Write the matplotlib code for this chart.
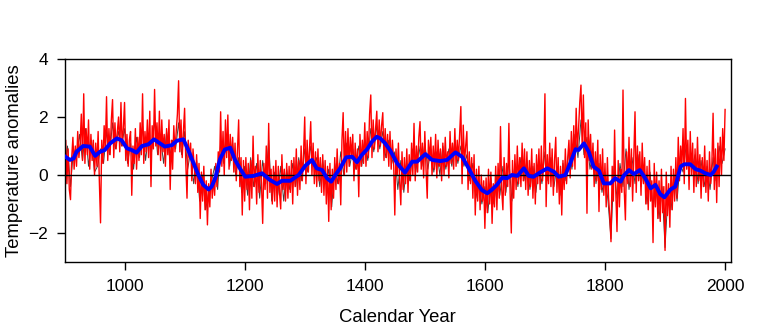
import matplotlib
matplotlib.use("Agg")
import matplotlib.pyplot as plt
from matplotlib import font_manager
import numpy as np

# ---------------- data ----------------
# red series: values every 2 years, 900..2000
red_start, red_step = 900, 2
red_values = [
    0.4, 1.2, -0.3, 0.9, -0.5,   -0.85, 0.6, 1.3, 0.2, 1.0,
    0.3, 1.5, 0.6, 1.1, 2.1,     0.5, 2.8, 0.4, 1.6, 0.7,
    1.9, 0.2, 1.4, 0.5, 1.2,     0.0, 1.1, 0.3, 1.5, -0.2,
    -1.65, 1.2, 0.4, 1.7, 0.9,   2.7, 0.5, 1.6, 0.7, 1.9,
    2.6, 0.6, 1.8, 0.9, 1.5,     2.0, 0.8, 2.5, 1.0, 1.6,
    2.5, 0.5, 1.4, 0.3, 1.2,     1.5, -0.7, 1.0, 0.4, 1.6,
    0.2, 1.3, 0.5, 1.8, 0.7,     2.8, 0.4, 1.5, 0.8, 1.9,
    0.6, 2.2, -0.4, 1.7, 0.9,    2.95, 1.0, 1.8, 0.7, 2.2,
    0.5, 1.9, 0.8, 1.4, 0.3,     1.6, 0.7, 1.9, -0.5, 1.2,
    0.2, 1.7, 0.8, 1.5, 2.1,     3.25, 0.8, 1.9, 0.6, 1.5,
    2.3, 0.4, -0.8, 1.2, 0.6,    1.1, -0.2, 0.9, 0.3, -0.3,
    0.7, -0.6, 0.4, -1.5, 0.1,   -0.9, 0.3, -1.2, -0.2, -1.72,
    -0.3, -1.1, 0.2, -0.8, -0.1, -0.7, 0.4, -0.4, 0.8, 0.1,
    2.18, 0.3, 1.5, 0.0, 1.9,    0.6, 2.07, 0.2, 1.4, 0.5,
    1.3, 0.1, 1.1, -0.2, 0.9,    1.9, -0.4, 0.6, -1.38, 0.5,
    -0.9, 0.6, -0.5, 0.4, -1.2,  0.5, -0.8, 1.34, -0.4, 0.3,
    -1.0, 0.7, -0.6, 0.5, -0.3,  -1.67, 0.4, -0.5, 1.0, -0.8,
    1.78, -0.6, 0.2, -1.0, 0.3,  -0.9, 0.5, -1.1, 0.3, -0.6,
    -1.17, 0.7, -0.5, 0.2, -0.9, 0.4, -0.8, 0.3, -0.6, 0.5,
    -1.0, 0.6, -0.4, 0.9, -0.7,  0.5, -0.5, 1.0, -0.2, 0.7,
    2.0, -0.3, 1.2, 0.1, 0.9,    1.84, 0.0, 1.1, -0.3, 0.8,
    -0.4, 0.9, -0.2, 0.6, -0.6,  0.7, -0.7, 0.5, -1.0, 0.3,
    -1.6, 0.4, -1.2, 0.2, -0.8,  0.6, -0.5, 0.9, -0.3, 0.4,
    -1.03, 1.2, 2.15, 0.0, 1.5,  0.1, 1.6, 0.3, 1.3, 0.6,
    1.4, -0.2, 1.1, 0.2, 0.9,    -0.75, 1.4, 0.3, 1.2, 0.4,
    1.8, 0.3, 1.5, 0.6, 2.1,     2.76, 0.6, 1.9, 0.9, 1.6,
    2.2, 0.8, 1.9, 1.0, 1.7,     2.15, 0.5, 1.6, 0.6, 1.4,
    0.3, 1.5, 0.2, 1.2, 0.5,     -1.38, 0.9, 0.0, 1.1, -0.2,
    -1.03, 0.8, -0.5, 0.6, -0.3, 0.9, -0.6, 0.7, -0.2, 1.1,
    0.0, 1.78, -0.2, 1.0, 0.1,   1.3, 1.84, 0.2, 1.1, -0.1,
    1.5, 0.2, -0.8, 1.2, 0.5,    1.3, 0.0, 1.0, 0.2, 1.4,
    -0.1, 1.2, 0.3, 0.9, -0.2,   1.1, 0.0, 1.3, 0.3, 0.8,
    -0.1, 1.5, 0.4, 1.1, 0.2,    1.6, 0.3, 1.2, 0.5, 1.4,
    2.36, -0.3, 1.72, 0.4, 1.0,  1.5, -0.5, 0.8, -0.3, 0.6,
    -0.8, 0.7, -1.38, 0.2, -0.9, 0.3, -1.2, 0.0, -0.9, -0.2,
    -1.84, -0.1, -1.3, 0.2, -1.0, 0.1, -1.67, -0.3, -1.1, 0.3,
    -1.2, 0.4, -0.8, 1.67, -0.5, -1.2, 0.6, -0.7, 0.4, -0.4,
    1.78, -0.6, -2.0, 0.5, -0.8, 0.7, -0.5, 1.0, -0.3, 0.6,
    -0.4, 1.1, -0.2, 0.9, -0.5,  0.8, -0.7, 0.5, -0.4, 0.9,
    -0.8, 0.4, -1.0, 0.7, -0.3,  0.9, -0.5, 1.0, -0.2, 0.6,
    2.8, -1.09, 0.7, -0.3, 1.1,  -0.4, 0.9, -0.7, 0.5, 1.3,
    -0.6, 0.6, -1.0, 0.3, -1.38, 0.5, -0.5, 0.9, -0.3, 0.6,
    1.2, -0.1, 1.5, 0.3, 1.7,    0.2, 2.3, 0.9, 1.6, 2.5,
    3.1, 1.0, 2.76, 0.6, 1.8,    -1.32, 1.9, 0.5, 1.4, 0.2,
    1.1, -0.4, 0.8, -0.2, 1.2,   -1.26, 0.7, -0.5, 0.9, -0.7,
    0.4, -1.1, 0.6, -0.8, -1.4,  -2.3, 0.3, -0.9, 1.55, -0.6,
    -1.95, 0.5, -1.1, 0.2, -0.6, 2.93, -0.5, -1.55, 0.8, -0.3,
    1.3, -0.4, 0.9, -0.9, 0.6,   2.18, -0.6, 1.0, -0.2, 0.8,
    -0.7, 1.1, -0.3, 0.6, -1.0,  0.3, -1.2, 0.5, -0.9, -0.2,
    -2.33, 0.4, -1.1, 0.1, -1.5, -0.2, -1.6, 0.2, -1.3, -0.4,
    -2.6, 0.1, -1.4, -0.3, -1.8, 0.3, -1.2, 0.2, -0.9, 0.6,
    -0.8, 1.3, -0.2, 1.0, 0.3,   1.6, -0.3, 2.64, 0.2, 1.2,
    -0.5, 1.5, 0.0, 1.1, -0.6,   0.9, -0.4, 1.3, -0.2, 0.7,
    -0.8, 0.6, -0.4, 1.0, -0.6,  0.5, -0.9, 0.8, -0.3, 0.4,
    2.13, -0.5, 0.9, -0.95, 1.1, -0.4, 1.3, 0.0, 1.6, 0.5,
    2.26,
]

# dark grey companion series: values every 5 years, 900..2000
grey_start, grey_step = 900, 5
grey_values = [
    0.2, 1.0, -0.4, 0.9, 0.6, 1.4, 0.5, 1.6, 0.3, 1.2,
    0.1, 0.3, 0.9, 0.4, 1.5, 0.7, 1.8, 0.9, 1.5, 1.0,
    1.6, 0.4, 1.1, 0.2, 1.3, 0.6, 1.7, 0.5, 1.4, 0.8,
    1.9, 0.7, 1.3, 0.4, 1.5, 0.6, 1.2, 0.9, 1.8, 0.7,
    1.5, 0.2, 0.8, -0.3, 0.5, -0.9, 0.0, -1.2, -0.6, -0.2,
    0.3, -0.5, 1.1, 0.4, 1.4, 0.3, 1.1, 0.0, 0.6, -0.6,
    0.3, -0.7, 0.6, -0.4, 0.4, -0.8, 0.5, -0.3, 1.2, -0.9,
    0.1, -0.7, 0.3, -0.9, 0.2, -0.5, 0.4, -0.4, 0.6, -0.2,
    0.9, 0.1, 1.0, 0.3, 0.6, -0.4, 0.5, -0.3, 0.2, -1.1,
    0.4, -0.3, 0.8, 0.0, 1.1, 0.3, 0.9, 0.2, 1.0, 0.3,
    1.2, 0.5, 1.6, 0.8, 1.7, 0.9, 1.5, 0.6, 1.2, 0.4,
    0.8, -0.5, 0.5, -0.6, 0.4, -0.2, 0.9, 0.1, 1.0, 0.3,
    1.1, 0.2, 0.9, 0.1, 0.8, 0.0, 1.0, 0.2, 0.9, 0.3,
    1.2, 0.4, 1.0, 0.3, 0.7, -0.2, 0.4, -0.8, -0.2, -1.0,
    -0.4, -1.3, -0.1, -1.0, 0.0, -0.7, 0.3, -0.6, 0.5, -0.9,
    0.4, -0.4, 0.6, -0.2, 0.5, -0.5, 0.3, -0.6, 0.4, -0.3,
    0.8, -0.2, 0.6, -0.4, 0.3, -0.7, 0.4, -0.2, 0.9, 0.2,
    1.4, 0.6, 1.9, 0.7, 1.3, 0.2, 0.8, -0.3, 0.4, -0.6,
    0.1, -0.9, -2.2, 0.3, -0.8, 0.4, -0.4, 0.9, -0.5, 0.6,
    -0.3, 0.7, -0.4, 0.3, -1.0, 0.1, -1.2, -0.3, -1.5, -0.4,
    -2.5, -0.6, -1.2, 0.0, -0.9, 0.4, 0.1, 1.0, 0.5, 0.2,
    0.7, -0.3, 0.5, -0.4, 0.3, -0.5, 0.6, -0.2, 1.0, 0.4,
    0.9,
]

# smoothed (blue) series
blue_years = [
    900, 909, 915, 920, 931, 942, 951, 959, 967, 976, 987, 995, 1004, 1012,
    1020, 1029, 1040, 1049, 1059, 1067, 1079, 1087, 1098, 1106, 1115, 1123,
    1131, 1140, 1145, 1151, 1159, 1167, 1176, 1184, 1192, 1201, 1215, 1229,
    1242, 1254, 1262, 1276, 1290, 1301, 1312, 1320, 1329, 1337, 1344, 1351,
    1359, 1369, 1379, 1387, 1395, 1404, 1412, 1420, 1426, 1434, 1442, 1454,
    1467, 1479, 1487, 1501, 1512, 1526, 1537, 1551, 1562, 1573, 1584, 1595,
    1604, 1612, 1620, 1629, 1637, 1645, 1654, 1665, 1673, 1681, 1692, 1704,
    1715, 1723, 1734, 1742, 1751, 1756, 1765, 1773, 1781, 1790, 1798, 1809,
    1817, 1826, 1831, 1840, 1848, 1858, 1867, 1876, 1884, 1892, 1899, 1909,
    1917, 1926, 1932, 1942, 1951, 1959, 1967, 1976, 1981, 1986,
]
blue_values = [
    0.65, 0.52, 0.57, 0.8, 1.0, 0.98, 0.66, 0.8, 0.86, 1.09, 1.26, 1.2, 0.92, 0.86,
    0.77, 1.0, 1.06, 1.23, 1.09, 0.98, 1.03, 1.18, 1.23, 0.86, 0.4, 0.0,
    -0.34, -0.5, -0.4, -0.11, 0.55, 0.88, 0.94, 0.52, 0.23, -0.06, -0.03, 0.06,
    -0.17, -0.31, -0.2, -0.2, 0.0, 0.32, 0.52, 0.23, 0.17, -0.11, -0.23, 0.0,
    0.23, 0.61, 0.63, 0.44, 0.69, 0.89, 1.15, 1.32, 1.26, 1.09, 0.86, 0.4,
    0.08, 0.46, 0.46, 0.72, 0.52, 0.48, 0.52, 0.78, 0.63, 0.23, -0.2, -0.52,
    -0.63, -0.5, -0.34, -0.09, -0.11, 0.0, -0.03, 0.23, -0.03, -0.06, 0.09, 0.23,
    0.11, -0.06, 0.0, 0.4, 0.89, 0.86, 1.09, 0.8, 0.29, 0.15, -0.29, -0.29,
    -0.11, -0.23, -0.03, 0.17, 0.03, 0.17, -0.11, -0.46, -0.34, -0.66, -0.77, -0.5,
    -0.4, 0.29, 0.37, 0.37, 0.2, 0.15, 0.06, 0.0, 0.11, 0.29,
]

x_ticks = [1000, 1200, 1400, 1600, 1800, 2000]
y_ticks = [-2, 0, 2, 4]

# ---------------- plot ----------------
plt.rcParams['font.family'] = ['Liberation Sans', 'DejaVu Sans']
names = {f.name for f in font_manager.fontManager.ttflist}
tick_family = 'Liberation Sans Narrow' if 'Liberation Sans Narrow' in names else 'Liberation Sans'

fig = plt.figure(figsize=(7.6, 3.31), dpi=100)
ax = fig.add_axes([64.5 / 760, 1 - 262 / 331, 666 / 760, 203 / 331])

red_years = red_start + red_step * np.arange(len(red_values))
grey_years = grey_start + grey_step * np.arange(len(grey_values))

ax.plot(grey_years, grey_values, color='#404040', lw=0.7, zorder=1)
ax.plot(red_years, red_values, color='#FF0000', lw=1.0, zorder=2)
ax.axhline(0, color='black', lw=1.0, zorder=3)
ax.plot(blue_years, blue_values, color='#0000FF', lw=2.8, zorder=4)

ax.set_xlim(900, 2009)
ax.set_ylim(-3, 4)
ax.set_xticks(x_ticks)
ax.set_yticks(y_ticks)
ax.tick_params(direction='out', length=6, width=1, labelsize=12.5, pad=6)
for lab in ax.get_xticklabels() + ax.get_yticklabels():
    lab.set_family(tick_family)
for s in ax.spines.values():
    s.set_linewidth(1.0)

ax.set_xlabel('Calendar Year', fontsize=13.3)
ax.set_ylabel('Temperature anomalies', fontsize=13.3)
ax.xaxis.set_label_coords((397.5 - 64.5) / 666, -(318 - 262) / 203)
ax.yaxis.set_label_coords(-(64.5 - 15) / 666, 0.5)
ax.xaxis.label.set_va('center')
ax.yaxis.label.set_va('center')

fig.savefig('out.png', dpi=100)
